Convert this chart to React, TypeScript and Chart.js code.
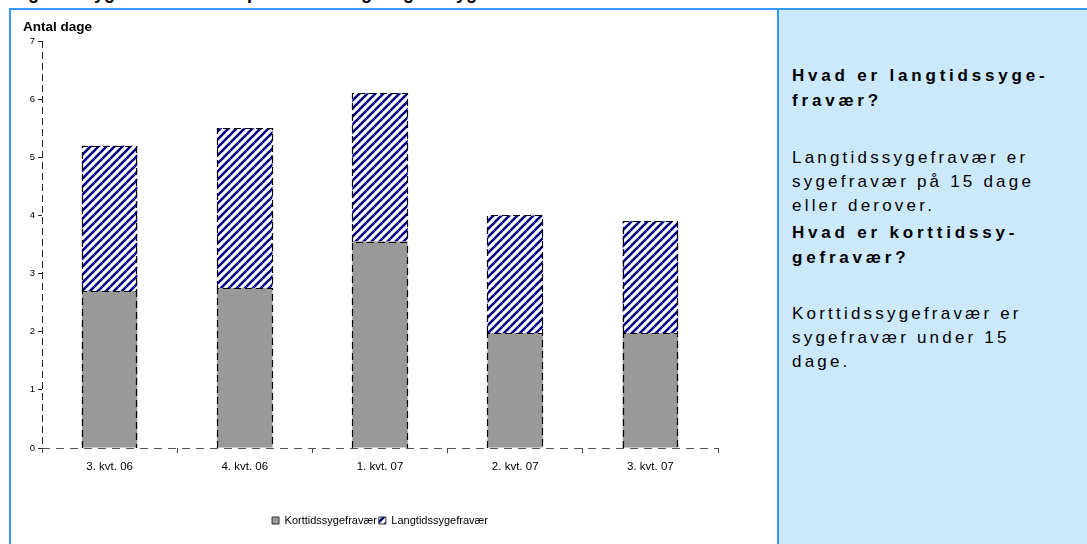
import React, { useEffect, useRef } from "react";
import { Chart, registerables } from "chart.js";

Chart.register(...registerables);

const categories = ["3. kvt. 06", "4. kvt. 06", "1. kvt. 07", "2. kvt. 07", "3. kvt. 07"];
const seriesNames = ["Korttidssygefravær", "Langtidssygefravær"];
const korttid = [2.7, 2.75, 3.55, 1.98, 1.98];
const langtid = [2.5, 2.75, 2.55, 2.02, 1.92];
const yMin = 0;
const yMax = 7;
const yStep = 1;
const yLabel = "Antal dage";
const titleText = "Figur 2. Sygefravær fordelt på korttids- og langtidssygefravær";

const FONT = "'Liberation Sans', Arial, Helvetica, sans-serif";

function makeHatch(): CanvasPattern | string {
  const s = 8;
  const c = document.createElement("canvas");
  c.width = s;
  c.height = s;
  const g = c.getContext("2d");
  if (!g) return "#000080";
  g.fillStyle = "#ffffff";
  g.fillRect(0, 0, s, s);
  g.strokeStyle = "#000080";
  g.lineWidth = 2.6;
  g.beginPath();
  g.moveTo(-1, s + 1);
  g.lineTo(s + 1, -1);
  g.moveTo(-s / 2 - 1, s / 2 + 1);
  g.lineTo(s / 2 + 1, -s / 2 - 1);
  g.moveTo(s / 2 - 1, s * 1.5 + 1);
  g.lineTo(s * 1.5 + 1, s / 2 - 1);
  g.stroke();
  const p = g.createPattern(c, "repeat");
  return p || "#000080";
}

const dashedBars = {
  id: "dashedBars",
  afterDatasetsDraw(chart: any) {
    const ctx = chart.ctx;
    ctx.save();
    ctx.setLineDash([7, 4]);
    ctx.strokeStyle = "#000";
    ctx.lineWidth = 1.2;
    chart.data.datasets.forEach((_ds: any, i: number) => {
      const meta = chart.getDatasetMeta(i);
      meta.data.forEach((bar: any) => {
        const p = bar.getProps(["x", "y", "base", "width"], true);
        const l = Math.round(p.x - p.width / 2) + 0.5;
        const r = Math.round(p.x + p.width / 2) - 0.5;
        const t = Math.round(p.y) + 0.5;
        const b = Math.round(p.base);
        ctx.beginPath();
        ctx.moveTo(l, b);
        ctx.lineTo(l, t);
        ctx.lineTo(r, t);
        ctx.lineTo(r, b);
        ctx.stroke();
      });
    });
    // dashed axis lines
    const { left, right, top, bottom } = chart.chartArea;
    const xl = Math.round(left) + 0.5;
    const yb = Math.round(bottom) + 0.5;
    ctx.lineWidth = 1;
    ctx.strokeStyle = "#222";
    ctx.setLineDash([7, 4]);
    ctx.beginPath();
    ctx.moveTo(xl, top);
    ctx.lineTo(xl, bottom);
    ctx.stroke();
    ctx.strokeStyle = "#555";
    ctx.setLineDash([8, 6]);
    ctx.beginPath();
    ctx.moveTo(left, yb);
    ctx.lineTo(right, yb);
    ctx.stroke();
    ctx.restore();
  },
};

function ChartBox() {
  const ref = useRef<HTMLCanvasElement | null>(null);
  useEffect(() => {
    if (!ref.current) return;
    const hatch = makeHatch();
    const chart = new Chart(ref.current, {
      type: "bar",
      data: {
        labels: categories,
        datasets: [
          {
            label: seriesNames[0],
            data: korttid,
            backgroundColor: "#999999",
            borderWidth: 0,
            borderColor: "#000",
            categoryPercentage: 1,
            barPercentage: 0.41,
          },
          {
            label: seriesNames[1],
            data: langtid,
            backgroundColor: hatch as any,
            borderWidth: 0,
            borderColor: "#000",
            categoryPercentage: 1,
            barPercentage: 0.41,
          },
        ],
      },
      options: {
        animation: false,
        responsive: false,
        devicePixelRatio: 1,
        layout: { padding: { left: 17, right: 59, top: 31, bottom: 8 } },
        plugins: {
          tooltip: { enabled: false },
          legend: {
            position: "bottom",
            fullSize: false,
            labels: {
              boxWidth: 7,
              boxHeight: 7,
              padding: 2,
              color: "#000",
              font: { family: FONT, size: 11 },
              generateLabels: (c: any) => {
                const items = Chart.defaults.plugins.legend.labels.generateLabels(c);
                items.forEach((it: any) => {
                  it.lineWidth = 1;
                  it.strokeStyle = "#333";
                });
                return items;
              },
            },
          },
        },
        scales: {
          x: {
            stacked: true,
            grid: {
              display: true,
              drawOnChartArea: false,
              drawTicks: true,
              tickLength: 5,
              color: "#444",
              offset: true,
            },
            border: { display: false },
            ticks: { color: "#000", padding: 7, font: { family: FONT, size: 11.5 } },
            afterFit: (s: any) => {
              s.height = 65;
            },
          },
          y: {
            stacked: true,
            min: yMin,
            max: yMax,
            grid: {
              display: true,
              drawOnChartArea: false,
              drawTicks: true,
              tickLength: 4,
              color: "#222",
            },
            border: { display: false },
            ticks: { stepSize: yStep, color: "#000", padding: 3, font: { family: FONT, size: 9.5 } },
            afterFit: (s: any) => {
              s.width = 14;
            },
          },
        },
      },
      plugins: [dashedBars],
    });
    return () => chart.destroy();
  }, []);
  return (
    <canvas
      ref={ref}
      width={766}
      height={534}
      style={{ position: "absolute", left: 11, top: 10, width: 766, height: 534 }}
    />
  );
}

export default function App() {
  const blue = "#3399ff";
  const headStyle: React.CSSProperties = {
    fontWeight: "bold",
    fontSize: 17,
    letterSpacing: 3.8,
    lineHeight: "25px",
    margin: 0,
  };
  const bodyStyle: React.CSSProperties = {
    fontSize: 17,
    letterSpacing: 3.2,
    lineHeight: "24px",
    margin: 0,
  };
  return (
    <div
      style={{
        position: "relative",
        width: 1087,
        height: 544,
        overflow: "hidden",
        background: "#fff",
        fontFamily: FONT,
        color: "#000",
      }}
    >
      <style>{`body{margin:0}`}</style>
      <div
        style={{
          position: "absolute",
          left: 12,
          top: -17,
          fontWeight: "bold",
          fontSize: 18,
          whiteSpace: "nowrap",
        }}
      >
        {titleText}
      </div>
      <div style={{ position: "absolute", left: 9, top: 8, right: 0, height: 2, background: blue }} />
      <div style={{ position: "absolute", left: 9, top: 8, width: 2, bottom: 0, background: blue }} />
      <ChartBox />
      <div
        style={{
          position: "absolute",
          left: 23,
          top: 19,
          fontWeight: "bold",
          fontSize: 13.5,
          whiteSpace: "nowrap",
        }}
      >
        {yLabel}
      </div>
      <div
        style={{
          position: "absolute",
          left: 777,
          top: 10,
          width: 310,
          bottom: 0,
          background: "#cce9fc",
          borderLeft: `2px solid ${blue}`,
          boxSizing: "border-box",
        }}
      />
      <div style={{ position: "absolute", left: 792, top: 63, whiteSpace: "nowrap" }}>
        <p style={headStyle}>
          Hvad er langtidssyge-
          <br />
          fravær?
        </p>
        <p style={{ ...bodyStyle, marginTop: 33 }}>
          Langtidssygefravær er
          <br />
          sygefravær på 15 dage
          <br />
          eller derover.
        </p>
        <p style={{ ...headStyle, marginTop: 2 }}>
          Hvad er korttidssy-
          <br />
          gefravær?
        </p>
        <p style={{ ...bodyStyle, marginTop: 32 }}>
          Korttidssygefravær er
          <br />
          sygefravær under 15
          <br />
          dage.
        </p>
      </div>
    </div>
  );
}
